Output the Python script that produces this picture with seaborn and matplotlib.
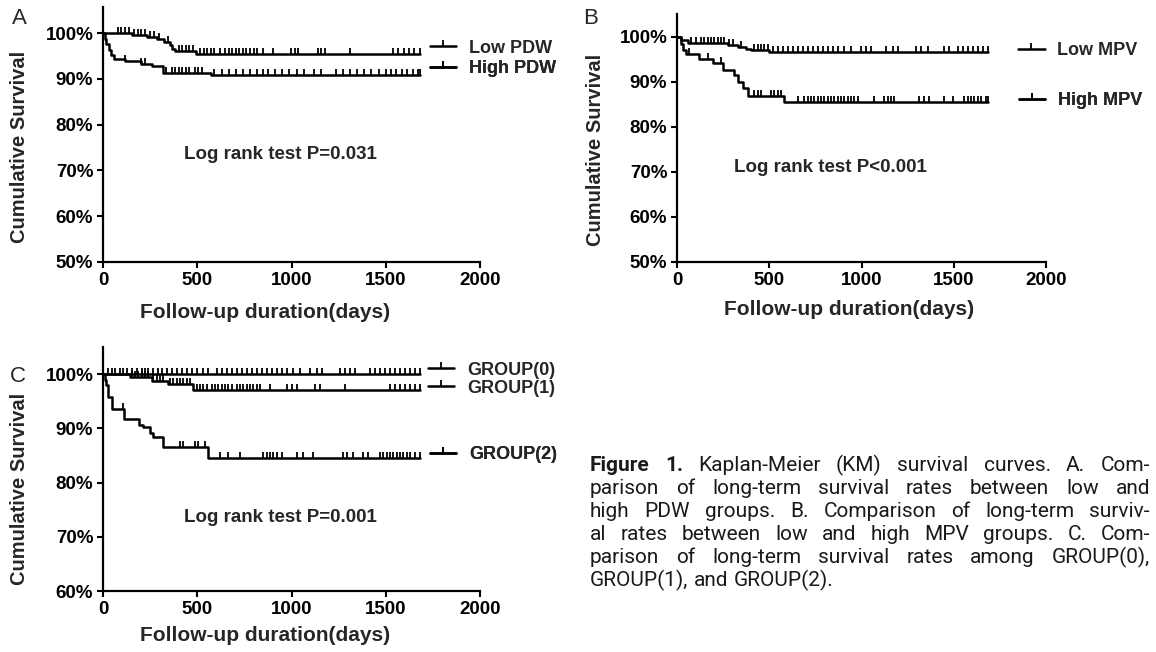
import numpy as np
import matplotlib
matplotlib.use("Agg")
import matplotlib.pyplot as plt
from matplotlib.lines import Line2D
import seaborn as sns

# Panel A - PDW groups (event times in days, survival % after each event, censored times)
pdw_low_t = [155, 231, 288, 326, 354, 364, 383, 496]
pdw_low_s = [99.6, 99.2, 98.7, 98.0, 97.3, 96.5, 96.0, 95.4]
pdw_low_cens = [80, 98, 117, 136, 165, 184, 203, 222, 250, 269, 297, 345, 402, 420, 439,
                458, 477, 515, 534, 553, 572, 591, 619, 648, 667, 686, 705, 724, 742, 761,
                780, 799, 818, 847, 903, 998, 1017, 1036, 1140, 1159, 1178, 1311, 1538,
                1566, 1595, 1623, 1652, 1680]
pdw_high_t = [8, 18, 30, 45, 57, 117, 203, 260, 316, 572]
pdw_high_s = [98.8, 97.6, 96.4, 95.2, 94.4, 93.8, 93.3, 92.8, 91.3, 90.8]
pdw_high_cens = [117, 203, 222, 335, 364, 383, 402, 420, 439, 458, 487, 506, 525, 591,
                 629, 667, 705, 742, 780, 818, 847, 875, 913, 951, 989, 1027, 1064, 1121,
                 1159, 1235, 1273, 1311, 1349, 1386, 1424, 1462, 1500, 1528, 1557, 1585,
                 1614, 1642, 1670, 1680]

# Panel B - MPV groups
mpv_low_t = [22, 58, 274, 329, 374, 401, 501]
mpv_low_s = [99.3, 98.7, 98.2, 97.8, 97.4, 97.0, 96.7]
mpv_low_cens = [76, 103, 130, 148, 166, 184, 202, 220, 239, 257, 284, 302, 347, 419, 437,
                455, 473, 491, 518, 546, 573, 600, 627, 654, 681, 708, 735, 762, 789, 817,
                844, 871, 907, 943, 997, 1024, 1051, 1133, 1169, 1196, 1295, 1323, 1359,
                1449, 1476, 1521, 1548, 1575, 1603, 1630, 1657, 1684]
mpv_high_t = [20, 31, 48, 121, 193, 247, 311, 329, 356, 383, 582]
mpv_high_s = [98.5, 97.1, 96.2, 95.2, 94.2, 92.7, 91.6, 90.1, 88.6, 86.9, 85.6]
mpv_high_cens = [67, 166, 239, 419, 437, 455, 509, 528, 546, 564, 654, 690, 708, 726, 744,
                 762, 780, 799, 817, 835, 853, 871, 889, 907, 925, 943, 961, 979, 1070,
                 1124, 1142, 1160, 1178, 1314, 1341, 1368, 1449, 1494, 1557, 1575, 1593,
                 1612, 1630, 1648, 1675, 1684]

# Panel C - combined groups
g0_t = []
g0_s = []
g0_cens = [28, 46, 64, 90, 108, 125, 152, 179, 205, 223, 241, 267, 294, 311, 338, 364,
           391, 417, 444, 470, 497, 532, 559, 603, 630, 656, 683, 709, 736, 762, 789, 815,
           842, 868, 895, 921, 948, 974, 1010, 1045, 1098, 1133, 1160, 1257, 1284, 1310,
           1337, 1416, 1443, 1469, 1496, 1522, 1549, 1576, 1602, 1629, 1655, 1680]
g1_t = [143, 258, 346, 479]
g1_s = [99.5, 98.8, 98.2, 97.1]
g1_cens = [152, 170, 187, 205, 223, 241, 267, 285, 302, 320, 355, 373, 391, 408, 426, 444,
           462, 497, 515, 532, 550, 576, 594, 612, 630, 647, 665, 683, 709, 727, 744, 762,
           780, 797, 815, 833, 886, 974, 1001, 1027, 1125, 1151, 1284, 1522, 1549, 1576,
           1602, 1629, 1655, 1680]
g2_t = [10, 16, 28, 46, 111, 193, 214, 249, 267, 316, 559]
g2_s = [99.0, 97.9, 95.7, 93.5, 91.8, 90.6, 90.2, 89.1, 88.4, 86.5, 84.6]
g2_cens = [108, 408, 426, 488, 506, 541, 621, 665, 727, 851, 868, 886, 904, 921, 948, 1027,
           1063, 1116, 1275, 1293, 1328, 1381, 1408, 1469, 1487, 1505, 1522, 1540, 1558,
           1576, 1593, 1611, 1629, 1655, 1680]

sns.set_style("ticks")
plt.rcParams["font.family"] = ["Liberation Sans", "DejaVu Sans"]
plt.rcParams["font.weight"] = "bold"

W, H = 1156, 652
fig = plt.figure(figsize=(W / 100, H / 100), dpi=100)

tick_mark = [(0, 0), (0, 1)]  # upward censor tick


def km_draw(ax, ev_t, ev_s, cens):
    end = max(cens)
    last = ev_s[-1] if len(ev_s) else 100
    x = np.r_[0, ev_t, end]
    y = np.r_[100, ev_s, last]
    sns.lineplot(x=x, y=y, drawstyle="steps-post", color="black", linewidth=1.8,
                 estimator=None, sort=False, ax=ax)
    idx = np.searchsorted(x, cens, side="right") - 1
    ax.plot(cens, y[idx], ls="none", marker=tick_mark, ms=9, mew=1.3,
            color="black", fillstyle="none", clip_on=False)


def add_key(ax, label, x, y):
    h = Line2D([], [], color="black", lw=1.8, marker=tick_mark, ms=9, mew=1.3,
               fillstyle="none")
    leg = ax.legend([h], [label], loc="center left", bbox_to_anchor=(x, y),
                    bbox_transform=ax.transData, frameon=False, handlelength=1.45,
                    handletextpad=0.7, borderpad=0, borderaxespad=0,
                    prop=dict(family="Liberation Sans", weight="bold", size=13))
    ax.add_artist(leg)


def style_axes(ax, ymin, ytop, ylab_y, xlab_x, xlab_y):
    ax.set_xlim(0, 2000)
    ax.set_ylim(ymin, ytop)
    ax.set_xticks([0, 500, 1000, 1500, 2000])
    yt = list(range(ymin, 101, 10))
    ax.set_yticks(yt)
    ax.set_yticklabels([f"{v}%" for v in yt])
    sns.despine(ax=ax)
    for s in ["left", "bottom"]:
        ax.spines[s].set_linewidth(1.6)
        ax.spines[s].set_color("black")
    ax.tick_params(direction="out", length=4, width=1.5, labelsize=13.5, colors="black", pad=3)
    ax.set_xlabel("Follow-up duration(days)", fontsize=15, fontweight="bold")
    ax.set_ylabel("Cumulative Survival", fontsize=14.5, fontweight="bold")
    ax.yaxis.set_label_coords(-0.195, ylab_y)
    ax.xaxis.set_label_coords(xlab_x, xlab_y)
    ax.set_facecolor("none")


# Panel A
axA = fig.add_axes([103 / W, 1 - 262 / H, 377 / W, 255 / H])
km_draw(axA, pdw_low_t, pdw_low_s, pdw_low_cens)
km_draw(axA, pdw_high_t, pdw_high_s, pdw_high_cens)
style_axes(axA, 50, 105.7, 0.45, 0.43, -0.16)
axA.text(0.47, 0.42, "Log rank test P=0.031", transform=axA.transAxes, ha="center",
         va="center", fontsize=13.5, fontweight="bold")
add_key(axA, "Low PDW", 1735, 96.7)
add_key(axA, "High PDW", 1735, 92.3)

# Panel B
axB = fig.add_axes([677 / W, 1 - 262 / H, 369 / W, 248 / H])
km_draw(axB, mpv_low_t, mpv_low_s, mpv_low_cens)
km_draw(axB, mpv_high_t, mpv_high_s, mpv_high_cens)
style_axes(axB, 50, 105.1, 0.45, 0.465, -0.155)
axB.text(0.415, 0.38, "Log rank test P<0.001", transform=axB.transAxes, ha="center",
         va="center", fontsize=13.5, fontweight="bold")
add_key(axB, "Low MPV", 1850, 97.0)
add_key(axB, "High MPV", 1855, 85.8)

# Panel C
axC = fig.add_axes([103 / W, 1 - 591 / H, 377 / W, 244 / H])
km_draw(axC, g0_t, g0_s, g0_cens)
km_draw(axC, g1_t, g1_s, g1_cens)
km_draw(axC, g2_t, g2_s, g2_cens)
style_axes(axC, 60, 105, 0.42, 0.43, -0.145)
axC.text(0.47, 0.30, "Log rank test P=0.001", transform=axC.transAxes, ha="center",
         va="center", fontsize=13.5, fontweight="bold")
add_key(axC, "GROUP(0)", 1725, 100.7)
add_key(axC, "GROUP(1)", 1725, 97.4)
add_key(axC, "GROUP(2)", 1735, 85.1)

# panel letters
for letter, px, py in [("A", 12, 18), ("B", 583, 18), ("C", 10, 376)]:
    fig.text(px / W, 1 - py / H, letter, fontsize=16, fontweight="normal",
             ha="left", va="center")

# caption, justified
cap_lines = [
    "Figure 1. Kaplan-Meier (KM) survival curves. A. Com-",
    "parison of long-term survival rates between low and",
    "high PDW groups. B. Comparison of long-term surviv-",
    "al rates between low and high MPV groups. C. Com-",
    "parison of long-term survival rates among GROUP(0),",
    "GROUP(1), and GROUP(2).",
]
cap_font = ["Roboto", "DejaVu Sans"]
cap_size = 15
fig.canvas.draw()
rend = fig.canvas.get_renderer()
x_left, x_right = 590, 1150
for i, line in enumerate(cap_lines):
    words = line.split(" ")
    wts = ["bold" if (i == 0 and k < 2) else "normal" for k in range(len(words))]
    widths = []
    for w, wt in zip(words, wts):
        t = fig.text(0, 0, w, fontsize=cap_size, fontweight=wt, family=cap_font)
        widths.append(t.get_window_extent(rend).width)
        t.remove()
    if i < len(cap_lines) - 1:
        gap = (x_right - x_left - sum(widths)) / (len(words) - 1)
    else:
        gap = 0.25 * cap_size * 100 / 72
    x = x_left
    yb = 1 - (471 + 23 * i) / H
    for w, wt, wd in zip(words, wts, widths):
        fig.text(x / W, yb, w, fontsize=cap_size, fontweight=wt, family=cap_font,
                 ha="left", va="baseline", color="#1a1a1a")
        x += wd + gap

fig.savefig("out.png", dpi=100)
